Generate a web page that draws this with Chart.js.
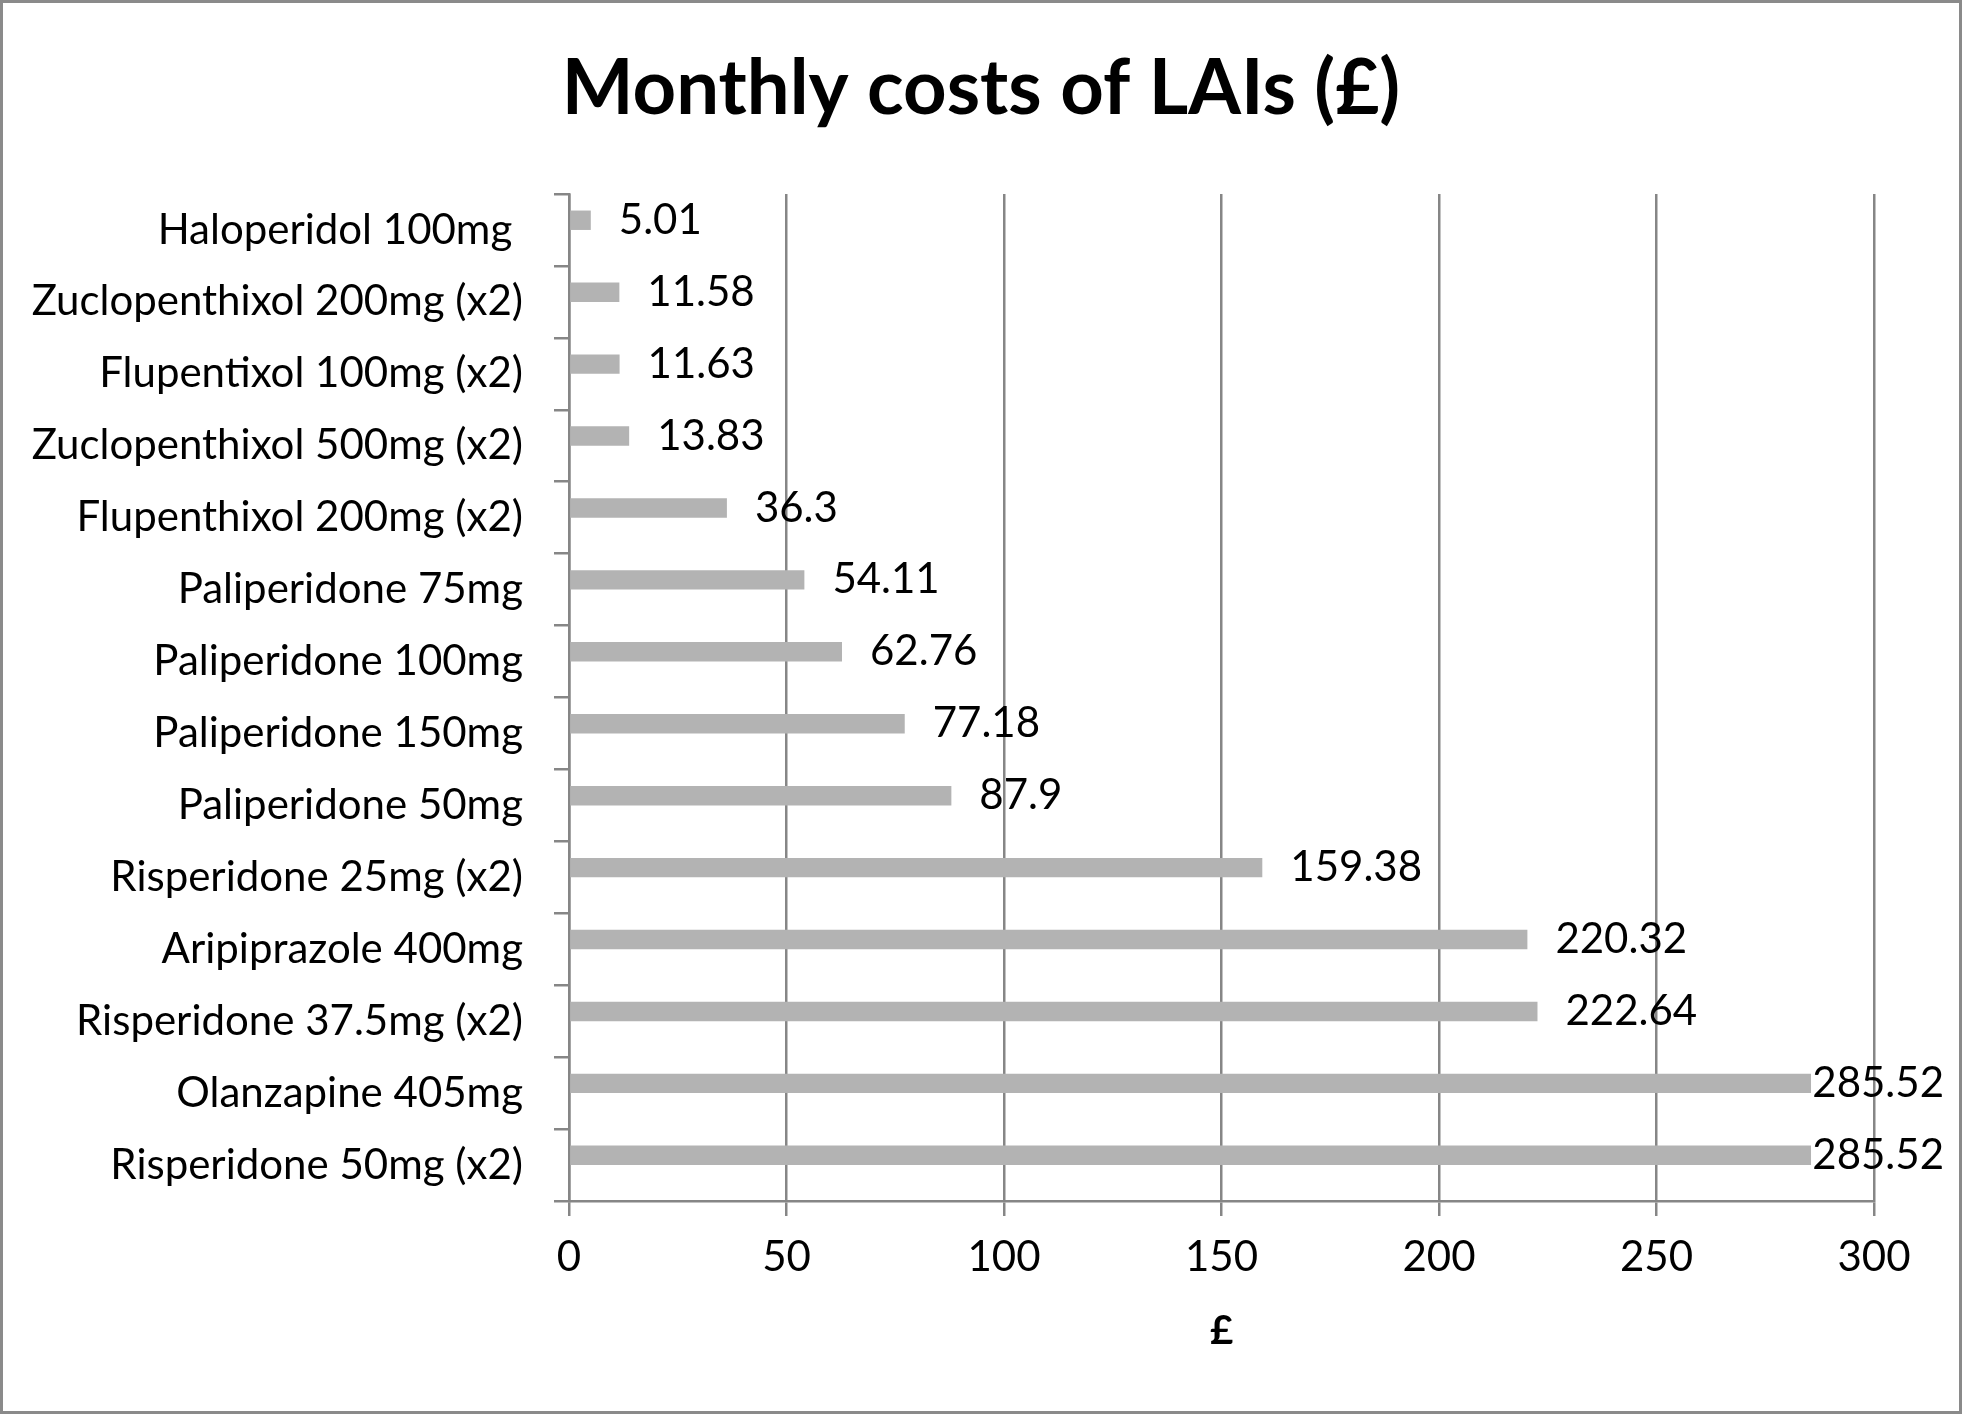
<!DOCTYPE html>
<html>
<head>
<meta charset="utf-8">
<script src="https://cdn.jsdelivr.net/npm/chart.js@4.4.1/dist/chart.umd.min.js"></script>
<style>
  html, body { margin: 0; padding: 0; background: #fff; }
  #wrap { width: 1962px; height: 1414px; }
</style>
</head>
<body>
<div id="wrap"><canvas id="barchart"></canvas></div>
<script>
// data, top to bottom
const drugs = [
  "Haloperidol 100mg ",
  "Zuclopenthixol 200mg (x2)",
  "Flupentixol 100mg (x2)",
  "Zuclopenthixol 500mg (x2)",
  "Flupenthixol 200mg (x2)",
  "Paliperidone 75mg",
  "Paliperidone 100mg",
  "Paliperidone 150mg",
  "Paliperidone 50mg",
  "Risperidone 25mg (x2)",
  "Aripiprazole 400mg",
  "Risperidone 37.5mg (x2)",
  "Olanzapine 405mg",
  "Risperidone 50mg (x2)"
];
const monthlyCost = [5.01, 11.58, 11.63, 13.83, 36.3, 54.11, 62.76, 77.18, 87.9, 159.38, 220.32, 222.64, 285.52, 285.52];
const xTicks = [0, 50, 100, 150, 200, 250, 300];

const FONT = "Lato";
const lineGrey = "#868686";

// frame round the whole picture
const framePlugin = {
  id: "frame",
  beforeDraw(chart) {
    const c = chart.ctx;
    c.save();
    c.fillStyle = "#fff";
    c.fillRect(0, 0, chart.width, chart.height);
    c.strokeStyle = "#8a8a8a";
    c.lineWidth = 3;
    c.strokeRect(1.5, 1.5, chart.width - 3, chart.height - 3);
    c.restore();
  }
};

// value labels right of each bar
const valueLabels = {
  id: "valueLabels",
  afterDatasetsDraw(chart) {
    const c = chart.ctx;
    const meta = chart.getDatasetMeta(0);
    c.save();
    c.font = "42px " + FONT;
    c.fillStyle = "#000";
    c.textBaseline = "middle";
    c.textAlign = "left";
    meta.data.forEach((bar, i) => {
      const txt = String(monthlyCost[i]);
      const w = c.measureText(txt).width;
      let x = bar.x + 28;
      x = Math.min(x, chart.width - 18 - w);
      c.fillText(txt, x, bar.y);
    });
    c.restore();
  }
};

document.addEventListener("DOMContentLoaded", function () {
  const ctx = document.getElementById("barchart").getContext("2d");
  new Chart(ctx, {
    type: "bar",
    data: {
      labels: drugs,
      datasets: [
        {
          data: monthlyCost,
          backgroundColor: "#b3b3b3",
          borderWidth: 0,
          barPercentage: 1,
          categoryPercentage: 0.54
        },
        {
          // empty second series, keeps the bars in the upper half of each row
          data: [],
          backgroundColor: "#b3b3b3",
          barPercentage: 1,
          categoryPercentage: 0.54
        }
      ]
    },
    plugins: [framePlugin, valueLabels],
    options: {
      indexAxis: "y",
      responsive: true,
      maintainAspectRatio: false,
      animation: false,
      devicePixelRatio: 1,
      layout: { padding: 0 },
      plugins: {
        legend: { display: false },
        tooltip: { enabled: false },
        title: {
          display: true,
          text: "Monthly costs of LAIs (£)",
          color: "#000",
          font: { family: FONT, size: 76, weight: "bold", lineHeight: 1.2 },
          padding: { top: 44, bottom: 58.8 }
        }
      },
      scales: {
        x: {
          min: 0,
          max: 300,
          afterBuildTicks(scale) { scale.ticks = xTicks.map(v => ({ value: v })); },
          afterFit(scale) { scale.height = 213; },
          grid: { color: lineGrey, lineWidth: 2.5, tickLength: 15, drawOnChartArea: true },
          border: { display: true, color: lineGrey, width: 2.5 },
          ticks: { color: "#000", padding: 16, font: { family: FONT, size: 42 } },
          title: {
            display: true,
            text: "£",
            color: "#000",
            font: { family: FONT, size: 40, weight: "bold", lineHeight: 1.2 },
            padding: { top: 0, bottom: 59 }
          }
        },
        y: {
          afterFit(scale) { scale.width = 569; },
          grid: { color: lineGrey, lineWidth: 2.5, tickLength: 15, drawOnChartArea: false, offset: true },
          border: { display: true, color: lineGrey, width: 2.5 },
          ticks: { color: "#000", padding: 31, font: { family: FONT, size: 42 } }
        },
        // blank right margin, kept out of the title's box
        yRight: {
          type: "category",
          position: "right",
          afterFit(scale) { scale.width = 88; },
          grid: { display: false },
          border: { display: false },
          ticks: { display: false }
        }
      }
    }
  });
});
</script>
</body>
</html>
